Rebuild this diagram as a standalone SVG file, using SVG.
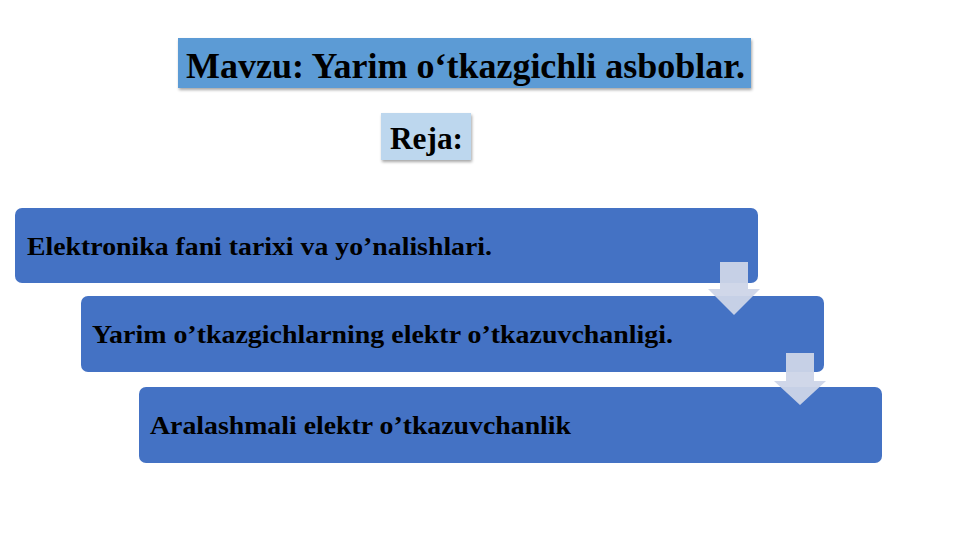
<svg xmlns="http://www.w3.org/2000/svg" width="961" height="540" viewBox="0 0 961 540">
<defs>
<style>
.t{font-family:"Liberation Serif","Times New Roman",serif;font-weight:bold;fill:#000}
.box{fill:#4472c4}
.arr{fill:#cdd5e8;fill-opacity:0.95}
</style>
<filter id="sh" x="-5%" y="-20%" width="110%" height="150%">
<feDropShadow dx="1" dy="2" stdDeviation="1.5" flood-color="#000" flood-opacity="0.35"/>
</filter>
</defs>
<rect width="961" height="540" fill="#fff"/>
<g id="title">
<rect x="178" y="38" width="573" height="50" fill="#5b9bd5" filter="url(#sh)"/>
<text class="t" x="186" y="78" font-size="35" textLength="559" lengthAdjust="spacingAndGlyphs">Mavzu: Yarim o‘tkazgichli asboblar.</text>
</g>
<g id="reja">
<rect x="381" y="113" width="90" height="47" fill="#bdd7ee" filter="url(#sh)"/>
<text class="t" x="390" y="149" font-size="31" textLength="73" lengthAdjust="spacingAndGlyphs">Reja:</text>
</g>
<g id="node1">
<rect class="box" x="15" y="208" width="743" height="75" rx="7"/>
<text class="t" x="27" y="255" font-size="26" textLength="465" lengthAdjust="spacingAndGlyphs">Elektronika fani tarixi va yo’nalishlari.</text>
</g>
<g id="node2">
<rect class="box" x="81" y="296" width="743" height="76" rx="7"/>
<text class="t" x="92" y="343" font-size="26" textLength="581" lengthAdjust="spacingAndGlyphs">Yarim o’tkazgichlarning elektr o’tkazuvchanligi.</text>
</g>
<g id="node3">
<rect class="box" x="139" y="387" width="743" height="76" rx="7"/>
<text class="t" x="150" y="434" font-size="26" textLength="421" lengthAdjust="spacingAndGlyphs">Aralashmali elektr o’tkazuvchanlik</text>
</g>
<g id="connectors">
<polygon class="arr" points="720,262 748,262 748,289 760,289 734,315 708,289 720,289"/>
<polygon class="arr" points="786,353 814,353 814,381 826,381 800,405 774,381 786,381"/>
</g>
</svg>
